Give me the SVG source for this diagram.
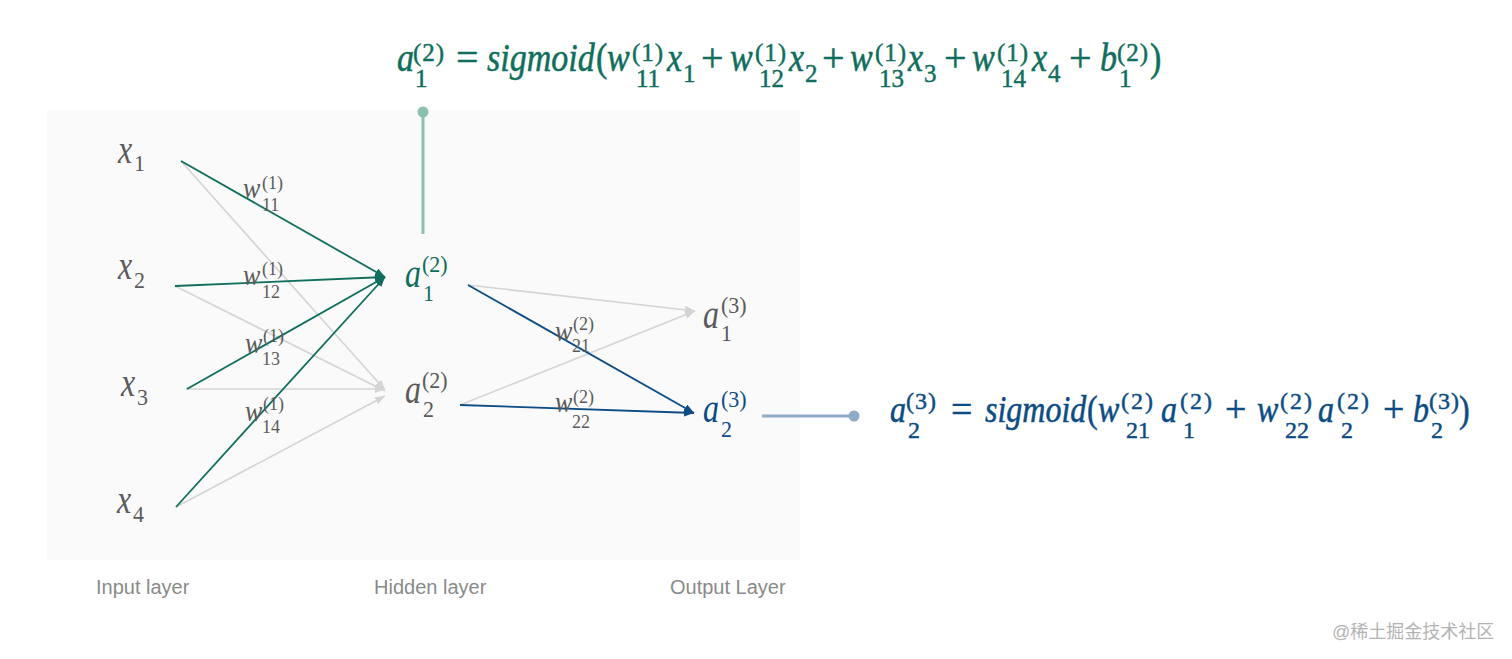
<svg xmlns="http://www.w3.org/2000/svg" width="1512" height="659" viewBox="0 0 1512 659">
<style>
.t{font-family:"Liberation Serif","Times New Roman",serif}
.i{font-style:italic}
.F{font-size:34px}
.Fs{font-size:25px}
.sp{letter-spacing:1px}
.sp2{letter-spacing:2px}
.Fo{font-size:40px}
.G{font-size:32px}
.Gs{font-size:24px}
.Go{font-size:38px}
.N{font-size:32px}
.Ns{font-size:22px}
.W{font-size:26px}
.Ws{font-size:18px}
.green{fill:#0f6e5c}
.blue{fill:#0c4c84}
.gray{fill:#5a5a5a}
.fg{fill:#0f6e5c;stroke:#0f6e5c;stroke-width:0.45px}
.fb{fill:#0c4c84;stroke:#0c4c84;stroke-width:0.45px}
.lbl{font-family:"Liberation Sans",Arial,sans-serif;font-size:20px;fill:#8a8a8a}
.wm{font-family:"Liberation Sans","Noto Sans CJK SC",sans-serif;font-size:18px;fill:#b3b3b3}
.cg{stroke:#0f6e5c;stroke-width:1.8;fill:none}
.cl{stroke:#d4d4d4;stroke-width:1.6;fill:none}
.cb{stroke:#0c4c84;stroke-width:1.8;fill:none}
</style>
<defs>
<marker id="ag" markerUnits="userSpaceOnUse" markerWidth="11" markerHeight="9" refX="10" refY="4" orient="auto"><path d="M0,0 L10,4 L0,8 z" fill="#0f6e5c"/></marker>
<marker id="al" markerUnits="userSpaceOnUse" markerWidth="11" markerHeight="9" refX="10" refY="4" orient="auto"><path d="M0,0 L10,4 L0,8 z" fill="#d4d4d4"/></marker>
<marker id="ab" markerUnits="userSpaceOnUse" markerWidth="11" markerHeight="9" refX="10" refY="4" orient="auto"><path d="M0,0 L10,4 L0,8 z" fill="#0c4c84"/></marker>
</defs>
<rect width="1512" height="659" fill="#ffffff"/>
<rect id="panel" x="47" y="110" width="753" height="450" fill="#fafafa"/>

<g id="connectors">
<line class="cl" x1="181" y1="161" x2="385" y2="390" marker-end="url(#al)"/>
<line class="cl" x1="175" y1="286" x2="385" y2="391" marker-end="url(#al)"/>
<line class="cl" x1="186" y1="389" x2="385" y2="389" marker-end="url(#al)"/>
<line class="cl" x1="176" y1="507" x2="385" y2="396" marker-end="url(#al)"/>
<line class="cg" x1="181" y1="161" x2="385" y2="277" marker-end="url(#ag)"/>
<line class="cg" x1="175" y1="286" x2="385" y2="277" marker-end="url(#ag)"/>
<line class="cg" x1="187" y1="389" x2="385" y2="277" marker-end="url(#ag)"/>
<line class="cg" x1="176" y1="507" x2="385" y2="277" marker-end="url(#ag)"/>
<line class="cl" x1="468" y1="285" x2="695" y2="311" marker-end="url(#al)"/>
<line class="cl" x1="460" y1="405" x2="695" y2="311" marker-end="url(#al)"/>
<line class="cb" x1="468" y1="285" x2="694" y2="413" marker-end="url(#ab)"/>
<line class="cb" x1="460" y1="405" x2="694" y2="413" marker-end="url(#ab)"/>
<line x1="423" y1="234" x2="423" y2="112" stroke="#8cc0b0" stroke-width="3"/>
<circle cx="423" cy="112" r="5.5" fill="#8cc0b0"/>
<line x1="762" y1="416" x2="854" y2="416" stroke="#8eabc7" stroke-width="3"/>
<circle cx="854" cy="416" r="5.5" fill="#8eabc7"/>
</g>

<g id="x1" class="t gray"><text class="N i" x="118" y="163" transform="matrix(1 0 0 1.25 0 -40.75)">x</text><text class="Ns" x="134" y="171" transform="matrix(1 0 0 1.08 0 -13.68)">1</text></g>
<g id="x2" class="t gray"><text class="N i" x="118" y="279" transform="matrix(1 0 0 1.25 0 -69.75)">x</text><text class="Ns" x="134" y="288" transform="matrix(1 0 0 1.08 0 -23.04)">2</text></g>
<g id="x3" class="t gray"><text class="N i" x="121" y="396" transform="matrix(1 0 0 1.25 0 -99)">x</text><text class="Ns" x="137" y="405" transform="matrix(1 0 0 1.08 0 -32.4)">3</text></g>
<g id="x4" class="t gray"><text class="N i" x="117" y="513" transform="matrix(1 0 0 1.25 0 -128.25)">x</text><text class="Ns" x="133" y="522" transform="matrix(1 0 0 1.08 0 -41.76)">4</text></g>

<g id="a1_2" class="t green"><text class="N i" x="405" y="287" transform="matrix(1 0 0 1.25 0 -71.75)">a</text><text class="Ns" x="422" y="272" transform="matrix(1 0 0 1.08 0 -21.76)">(2)</text><text class="Ns" x="423" y="301" transform="matrix(1 0 0 1.08 0 -24.08)">1</text></g>
<g id="a2_2" class="t gray"><text class="N i" x="405" y="403" transform="matrix(1 0 0 1.25 0 -100.75)">a</text><text class="Ns" x="422" y="388" transform="matrix(1 0 0 1.08 0 -31.04)">(2)</text><text class="Ns" x="423" y="417" transform="matrix(1 0 0 1.08 0 -33.36)">2</text></g>
<g id="a1_3" class="t gray"><text class="N i" x="703" y="328" transform="matrix(1 0 0 1.25 0 -82)">a</text><text class="Ns" x="721" y="313" transform="matrix(1 0 0 1.08 0 -25.04)">(3)</text><text class="Ns" x="721" y="341" transform="matrix(1 0 0 1.08 0 -27.28)">1</text></g>
<g id="a2_3" class="t blue"><text class="N i" x="703" y="422" transform="matrix(1 0 0 1.25 0 -105.5)">a</text><text class="Ns" x="721" y="407" transform="matrix(1 0 0 1.08 0 -32.56)">(3)</text><text class="Ns" x="721" y="437" transform="matrix(1 0 0 1.08 0 -34.96)">2</text></g>

<g id="w11" class="t gray"><text class="W i" x="243" y="198" transform="matrix(1 0 0 1.15 0 -29.7)">w</text><text class="Ws" x="262" y="189">(1)</text><text class="Ws" x="262" y="211">11</text></g>
<g id="w12" class="t gray"><text class="W i" x="243" y="285" transform="matrix(1 0 0 1.15 0 -42.75)">w</text><text class="Ws" x="262" y="275">(1)</text><text class="Ws" x="262" y="298">12</text></g>
<g id="w13" class="t gray"><text class="W i" x="245" y="353" transform="matrix(1 0 0 1.15 0 -52.95)">w</text><text class="Ws" x="263" y="342">(1)</text><text class="Ws" x="262" y="365">13</text></g>
<g id="w14" class="t gray"><text class="W i" x="245" y="421" transform="matrix(1 0 0 1.15 0 -63.15)">w</text><text class="Ws" x="263" y="410">(1)</text><text class="Ws" x="262" y="433">14</text></g>
<g id="w21" class="t gray"><text class="W i" x="555" y="341" transform="matrix(1 0 0 1.15 0 -51.15)">w</text><text class="Ws" x="573" y="330">(2)</text><text class="Ws" x="572" y="352">21</text></g>
<g id="w22" class="t gray"><text class="W i" x="555" y="412" transform="matrix(1 0 0 1.15 0 -61.8)">w</text><text class="Ws" x="573" y="403">(2)</text><text class="Ws" x="572" y="428">22</text></g>

<g id="formula1" class="t fg">
<g transform="matrix(1 0 0 1.2 0 -14.2)">
<text class="F i" x="397" y="71">a</text>
<text class="F i" x="487" y="71">sigmoid</text><text class="F" x="596" y="71">(</text>
<text class="F i" x="607" y="71">w</text><text class="F i" x="667" y="71">x</text>
<text class="F i" x="730" y="71">w</text><text class="F i" x="789" y="71">x</text>
<text class="F i" x="850" y="71">w</text><text class="F i" x="908" y="71">x</text>
<text class="F i" x="972" y="71">w</text><text class="F i" x="1032" y="71">x</text>
<text class="F i" x="1100" y="71">b</text>
<text class="F" x="1150" y="71">)</text>
</g>
<text class="Fo" x="456" y="71">=</text>
<text class="Fo" x="701" y="71">+</text>
<text class="Fo" x="822" y="71">+</text>
<text class="Fo" x="944" y="71">+</text>
<text class="Fo" x="1069" y="71">+</text>
<text class="Fs sp" x="413" y="61">(2)</text>
<text class="Fs sp" x="632" y="61">(1)</text>
<text class="Fs sp" x="755" y="61">(1)</text>
<text class="Fs sp" x="875" y="61">(1)</text>
<text class="Fs sp" x="997" y="61">(1)</text>
<text class="Fs sp" x="1117" y="61">(2)</text>
<text class="Fs" x="415" y="87">1</text>
<text class="Fs" x="636" y="87">11</text>
<text class="Fs" x="759" y="87">12</text>
<text class="Fs" x="879" y="87">13</text>
<text class="Fs" x="1001" y="87">14</text>
<text class="Fs" x="1119" y="87">1</text>
<text class="Fs" x="683" y="82">1</text>
<text class="Fs" x="805" y="82">2</text>
<text class="Fs" x="924" y="82">3</text>
<text class="Fs" x="1048" y="82">4</text>
</g>

<g id="formula2" class="t fb">
<g transform="matrix(1 0 0 1.2 0 -84.4)">
<text class="G i" x="890" y="422">a</text>
<text class="G i" x="985" y="422">sigmoid</text><text class="G" x="1087" y="422">(</text>
<text class="G i" x="1098" y="422">w</text><text class="G i" x="1161" y="422">a</text>
<text class="G i" x="1257" y="422">w</text><text class="G i" x="1318" y="422">a</text>
<text class="G i" x="1413" y="422">b</text>
<text class="G" x="1459" y="422">)</text>
</g>
<text class="Go" x="951" y="422">=</text>
<text class="Go" x="1225" y="422">+</text>
<text class="Go" x="1383" y="422">+</text>
<text class="Gs sp" x="906" y="409">(3)</text>
<text class="Gs sp2" x="1121" y="409">(2)</text>
<text class="Gs sp2" x="1180" y="409">(2)</text>
<text class="Gs sp2" x="1280" y="409">(2)</text>
<text class="Gs sp2" x="1337" y="409">(2)</text>
<text class="Gs sp" x="1429" y="409">(3)</text>
<text class="Gs" x="908" y="438">2</text>
<text class="Gs" x="1126" y="438">21</text>
<text class="Gs" x="1183" y="438">1</text>
<text class="Gs" x="1285" y="438">22</text>
<text class="Gs" x="1341" y="438">2</text>
<text class="Gs" x="1431" y="438">2</text>
</g>

<g id="labels">
<text class="lbl" x="96" y="594">Input layer</text>
<text class="lbl" x="374" y="594">Hidden layer</text>
<text class="lbl" x="670" y="594">Output Layer</text>
</g>
<text class="wm" x="1332" y="638">@稀土掘金技术社区</text>
</svg>
